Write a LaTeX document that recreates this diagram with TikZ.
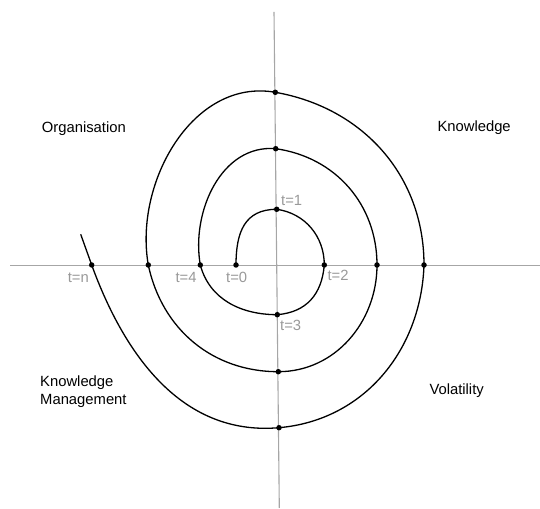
\documentclass[tikz,border=0pt]{standalone}
\usepackage{fontspec}
\setmainfont{Liberation Sans}
\definecolor{axisgray}{gray}{0.65}
\definecolor{labelgray}{gray}{0.6}
\begin{document}
\begin{tikzpicture}[x=1pt,y=1pt,
  axisline/.style={draw=axisgray,line width=1.1pt},
  spiral/.style={draw=black,line width=1.3pt},
  dot/.style={circle,fill=black,inner sep=0pt,minimum size=5.5pt},
  tlabel/.style={text=labelgray,inner sep=0pt,font=\fontsize{14.8}{17}\selectfont},
  quad/.style={inner sep=0pt,anchor=west,align=left,font=\fontsize{14.8}{18.3}\selectfont}]
\useasboundingbox (0,0) rectangle (540,508);
% axes
\coordinate (hl) at (10,242.7);
\coordinate (hr) at (540,242.7);
\coordinate (vt) at (274,496);
\coordinate (vb) at (279.3,0);
\draw[axisline] (hl) -- (hr);
\draw[axisline] (vt) -- (vb);
% spiral points
\coordinate (p0) at (236,243);
\coordinate (p1) at (276.7,298.7);
\coordinate (p2) at (324.3,243);
\coordinate (p3) at (277.3,193.3);
\coordinate (p4) at (200.3,243);
\coordinate (p5) at (275.7,359.3);
\coordinate (p6) at (377,243);
\coordinate (p7) at (278.3,136.3);
\coordinate (p8) at (148.3,243);
\coordinate (p9) at (275.3,415.7);
\coordinate (p10) at (424,243);
\coordinate (p11) at (279,80.3);
\coordinate (p12) at (91.7,243);
\coordinate (pend) at (80.7,273.7);
% spiral
\draw[spiral] (p0) to[out=90,in=180,looseness=1.2] (p1)
  to[out=-8,in=90] (p2)
  to[out=-95,in=5,looseness=1.1] (p3)
  to[out=180,in=-75] (p4)
  to[out=100,in=175] (p5)
  to[out=-8,in=90] (p6)
  to[out=-90,in=0] (p7)
  to[out=180,in=-78] (p8)
  to[out=100,in=170] (p9)
  to[out=-10,in=90] (p10)
  to[out=-92,in=5] (p11)
  to[out=185,in=-70] (p12)
  -- (pend);
% dots
\foreach \p in {p0,p1,p2,p3,p4,p5,p6,p7,p8,p9,p10,p11,p12}
  \node[dot] (d\p) at (\p) {};
% t labels
\node[tlabel] (l1) at (291.7,308) {t=1};
\node[tlabel] (l0) at (236.7,230.3) {t=0};
\node[tlabel] (l4) at (186,230.3) {t=4};
\node[tlabel] (l2) at (338,233) {t=2};
\node[tlabel] (l3) at (290.7,182.7) {t=3};
\node[tlabel] (ln) at (78.3,230.7) {t=n};
% quadrant labels
\node[quad] (org) at (41.7,379.7) {Organisation};
\node[quad] (know) at (437.3,380.7) {Knowledge};
\node[quad] (km) at (40,116.2) {Knowledge\\Management};
\node[quad] (vol) at (429.3,117) {Volatility};
\end{tikzpicture}
\end{document}
